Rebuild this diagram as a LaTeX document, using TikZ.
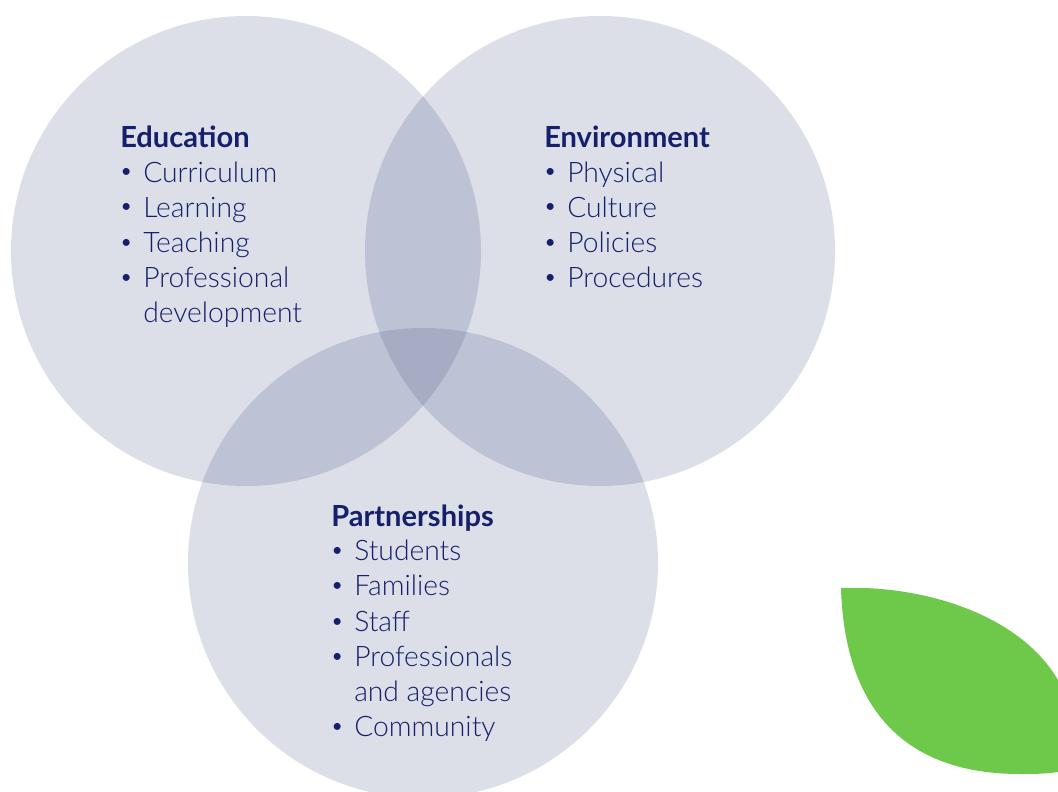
\documentclass[tikz,border=0pt]{standalone}
\usepackage{fontspec}
\setmainfont{Lato}
\newfontfamily\lightf{Lato Light}
\definecolor{navy}{HTML}{14206A}
\definecolor{venn}{HTML}{1D306A}
\definecolor{leaf}{HTML}{6EC849}
\newdimen\unit \unit=0.75pt
\tikzset{
  vennc/.style={circle,fill=venn,fill opacity=0.155,minimum size=470\unit,inner sep=0pt},
  head/.style={anchor=base west,text=navy,font=\fontsize{21.8}{24}\selectfont\bfseries,inner sep=0pt},
  item/.style={anchor=base west,text=navy,font=\lightf\fontsize{21.2}{24}\selectfont,inner sep=0pt},
  bul/.style={anchor=base west,text=navy,font=\fontsize{14}{20}\selectfont,inner sep=0pt}
}
\begin{document}
\begin{tikzpicture}[x=0.75pt,y=-0.75pt]
\useasboundingbox (0,0) rectangle (1058,792);
\begin{scope}
\clip (0,0) rectangle (1058,792);
\node[vennc] (edu) at (246,251) {};
\node[vennc] (env) at (600,251) {};
\node[vennc] (par) at (423,563) {};
\fill[leaf] (841,588) .. controls (925,585) and (1020,615) .. (1058,680) -- (1058,772) .. controls (1045,774) and (1032,774) .. (1020,774) .. controls (915,774) and (845,720) .. cycle;
\end{scope}
\node[head] (h1) at (120,147) {Education};
\foreach \n/\t/\y in {a/Curriculum/182,b/Learning/217,c/Teaching/252,d/Professional/287}{
  \node[bul] (b\n) at (120.5,\y-4) {•};
  \node[item] (i\n) at (143,\y) {\t};
}
\node[item] (ie) at (143,322) {development};
\node[head] (h2) at (544,147) {Environment};
\foreach \n/\t/\y in {f/Physical/182,g/Culture/217,h/Policies/252,i/Procedures/287}{
  \node[bul] (b\n) at (544.5,\y-4) {•};
  \node[item] (i\n) at (567,\y) {\t};
}
\node[head] (h3) at (331,526) {Partnerships};
\foreach \n/\t/\y in {j/Students/560,k/Families/595,l/Staff/631,m/Professionals/666,o/Community/736}{
  \node[bul] (b\n) at (331.5,\y-4) {•};
  \node[item] (i\n) at (354,\y) {\t};
}
\node[item] (ip) at (354,701) {and agencies};
\end{tikzpicture}
\end{document}
